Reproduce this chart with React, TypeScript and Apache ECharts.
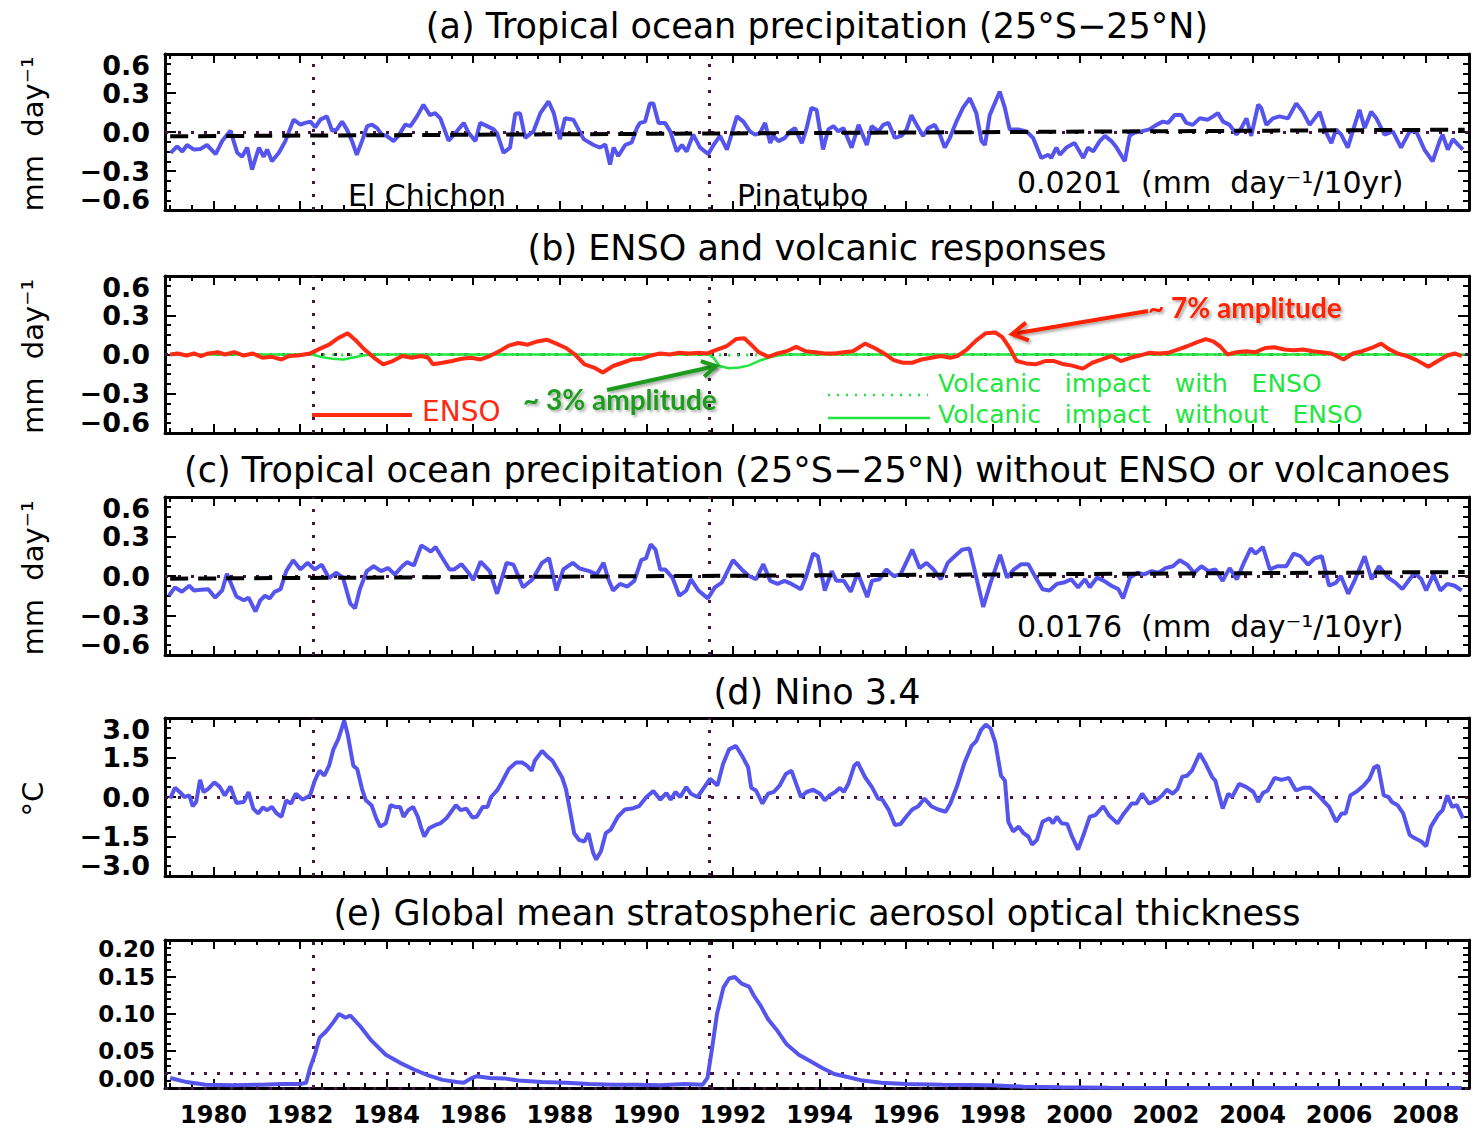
import React, { useEffect, useRef } from 'react';
import * as echarts from 'echarts';

const FONT = 'DejaVu Sans';
const BLUE = '#5555ee';
const PURPLE = '#4b1248';
const RED = '#ff2a14';
const GREEN = '#22e640';
const DARK_GREEN = '#1e9b1e';

const X_MIN = 1978.88;
const X_MAX = 2009.0;
const majorYears = [1980, 1982, 1984, 1986, 1988, 1990, 1992, 1994, 1996, 1998, 2000, 2002, 2004, 2006, 2008];
const minorYears = [1979, 1979.5, 1980.5, 1981, 1981.5, 1982.5, 1983, 1983.5, 1984.5, 1985, 1985.5, 1986.5, 1987, 1987.5, 1988.5, 1989, 1989.5, 1990.5, 1991, 1991.5, 1992.5, 1993, 1993.5, 1994.5, 1995, 1995.5, 1996.5, 1997, 1997.5, 1998.5, 1999, 1999.5, 2000.5, 2001, 2001.5, 2002.5, 2003, 2003.5, 2004.5, 2005, 2005.5, 2006.5, 2007, 2007.5, 2008.5];
const eruptions = [1982.3, 1991.45];

const precipTicks = [-0.6, -0.3, 0, 0.3, 0.6];
const ninoTicks = [-3, -1.5, 0, 1.5, 3];
const aodTicks = [0, 0.05, 0.1, 0.15, 0.2];

// (a) Tropical ocean precipitation anomaly (mm/day)
const precipRaw = [[1979.01,-0.16],[1979.16,-0.11],[1979.28,-0.15],[1979.39,-0.10],[1979.55,-0.135],[1979.70,-0.13],[1979.85,-0.10],[1980.05,-0.17],[1980.20,-0.07],[1980.39,0.01],[1980.55,-0.16],[1980.66,-0.19],[1980.78,-0.12],[1980.89,-0.29],[1981.05,-0.12],[1981.16,-0.19],[1981.24,-0.135],[1981.35,-0.225],[1981.51,-0.16],[1981.66,-0.07],[1981.85,0.095],[1982.01,0.057],[1982.12,0.07],[1982.24,0.08],[1982.35,0.036],[1982.47,0.095],[1982.62,0.12],[1982.74,0.01],[1982.85,0.02],[1982.97,0.08],[1983.08,0.02],[1983.20,-0.07],[1983.31,-0.175],[1983.43,-0.07],[1983.55,0.045],[1983.66,0.057],[1983.78,0.03],[1983.89,-0.02],[1984.00,-0.03],[1984.16,-0.07],[1984.27,-0.03],[1984.43,0.057],[1984.55,0.045],[1984.70,0.12],[1984.85,0.21],[1985.00,0.13],[1985.12,0.145],[1985.24,0.105],[1985.43,-0.066],[1985.62,0.005],[1985.78,0.07],[1985.90,-0.01],[1986.05,-0.07],[1986.16,0.07],[1986.32,0.045],[1986.47,0.02],[1986.55,-0.01],[1986.70,-0.16],[1986.85,-0.12],[1986.97,0.14],[1987.08,0.145],[1987.20,-0.045],[1987.39,0.005],[1987.55,0.145],[1987.74,0.235],[1987.86,0.145],[1988.00,-0.055],[1988.12,0.105],[1988.31,0.095],[1988.39,0.045],[1988.55,-0.055],[1988.78,-0.10],[1988.93,-0.12],[1989.05,-0.095],[1989.16,-0.25],[1989.24,-0.12],[1989.35,-0.185],[1989.51,-0.10],[1989.66,-0.08],[1989.78,0.03],[1989.85,0.07],[1989.97,0.08],[1990.08,0.22],[1990.16,0.22],[1990.28,0.07],[1990.43,0.07],[1990.55,0.005],[1990.70,-0.15],[1990.82,-0.10],[1990.93,-0.15],[1991.08,-0.02],[1991.24,-0.12],[1991.43,-0.17],[1991.55,-0.10],[1991.70,-0.03],[1991.86,-0.135],[1992.09,0.12],[1992.24,0.08],[1992.39,0.005],[1992.51,-0.02],[1992.62,-0.01],[1992.74,0.07],[1992.86,-0.085],[1992.93,-0.03],[1993.05,-0.07],[1993.20,-0.045],[1993.32,0.005],[1993.43,0.03],[1993.59,-0.085],[1993.70,0.03],[1993.81,0.185],[1993.93,0.17],[1994.08,-0.135],[1994.20,0.02],[1994.32,0.045],[1994.43,0.005],[1994.55,0.03],[1994.74,-0.12],[1994.90,0.055],[1995.09,-0.10],[1995.20,0.045],[1995.36,0.005],[1995.47,0.055],[1995.59,0.07],[1995.74,-0.045],[1995.89,-0.03],[1996.01,0.02],[1996.12,0.13],[1996.24,0.055],[1996.39,-0.03],[1996.51,0.03],[1996.66,0.055],[1996.78,-0.02],[1996.89,-0.12],[1997.01,-0.045],[1997.16,0.08],[1997.31,0.185],[1997.47,0.26],[1997.62,0.145],[1997.74,-0.07],[1997.82,-0.10],[1997.93,0.13],[1998.16,0.31],[1998.28,0.185],[1998.39,0.02],[1998.59,0.02],[1998.78,0.005],[1998.93,-0.045],[1999.12,-0.20],[1999.28,-0.175],[1999.35,-0.20],[1999.47,-0.12],[1999.55,-0.175],[1999.70,-0.12],[1999.89,-0.085],[2000.09,-0.20],[2000.20,-0.12],[2000.32,-0.15],[2000.47,-0.07],[2000.59,-0.03],[2000.74,-0.07],[2000.86,-0.12],[2001.05,-0.225],[2001.16,-0.03],[2001.28,-0.005],[2001.43,0.005],[2001.62,0.02],[2001.78,0.055],[2001.93,0.08],[2002.05,0.07],[2002.20,0.13],[2002.36,0.13],[2002.47,0.07],[2002.62,0.055],[2002.78,0.105],[2002.97,0.095],[2003.09,0.12],[2003.20,0.145],[2003.32,0.08],[2003.47,0.055],[2003.63,-0.02],[2003.74,0.03],[2003.86,0.105],[2003.97,-0.03],[2004.13,0.21],[2004.20,0.185],[2004.32,0.055],[2004.47,0.105],[2004.62,0.12],[2004.82,0.105],[2005.01,0.22],[2005.16,0.155],[2005.32,0.055],[2005.55,0.155],[2005.70,-0.005],[2005.82,-0.085],[2005.93,0.02],[2006.05,-0.02],[2006.20,-0.12],[2006.36,0.055],[2006.47,0.17],[2006.59,0.03],[2006.74,0.155],[2006.86,0.105],[2007.05,-0.02],[2007.24,0.005],[2007.43,-0.12],[2007.63,0.005],[2007.78,0.005],[2007.97,-0.135],[2008.16,-0.225],[2008.32,-0.07],[2008.39,-0.02],[2008.51,-0.135],[2008.63,-0.055],[2008.74,-0.095],[2008.86,-0.135]];
const trendA = [[1979.0,-0.033],[2008.9,0.018]];

// (b) ENSO and volcanic responses
const ensoResp = [[1979.0,0],[1979.17,0.008],[1979.38,-0.008],[1979.55,0.008],[1979.71,-0.012],[1979.88,0.008],[1980.10,0.018],[1980.26,0],[1980.48,0.018],[1980.70,-0.008],[1980.91,0.008],[1981.13,-0.025],[1981.35,-0.018],[1981.57,-0.038],[1981.74,-0.012],[1981.95,-0.008],[1982.23,0.008],[1982.45,0.043],[1982.67,0.075],[1982.88,0.125],[1983.10,0.163],[1983.27,0.113],[1983.49,0.038],[1983.71,-0.025],[1983.92,-0.075],[1984.14,-0.05],[1984.36,-0.012],[1984.58,-0.025],[1984.80,-0.012],[1984.96,-0.025],[1985.07,-0.075],[1985.29,-0.063],[1985.51,-0.05],[1985.73,-0.033],[1985.95,-0.025],[1986.17,-0.038],[1986.38,-0.012],[1986.60,0.025],[1986.82,0.068],[1987.04,0.088],[1987.26,0.075],[1987.48,0.10],[1987.70,0.113],[1987.92,0.083],[1988.14,0.05],[1988.35,0],[1988.57,-0.075],[1988.79,-0.10],[1988.99,-0.138],[1989.23,-0.088],[1989.45,-0.063],[1989.67,-0.038],[1989.88,-0.033],[1990.10,-0.008],[1990.32,0.008],[1990.54,0],[1990.76,0.013],[1990.98,0.008],[1991.20,0.013],[1991.41,0.008],[1991.63,0.038],[1991.85,0.063],[1992.07,0.118],[1992.26,0.125],[1992.42,0.075],[1992.59,0.018],[1992.81,-0.018],[1993.03,0.008],[1993.24,0.025],[1993.46,0.058],[1993.68,0.025],[1993.90,0.018],[1994.12,0.008],[1994.34,0.008],[1994.56,0.018],[1994.77,0.025],[1995.05,0.083],[1995.27,0.05],[1995.49,0.008],[1995.71,-0.043],[1995.92,-0.063],[1996.14,-0.063],[1996.36,-0.038],[1996.58,-0.025],[1996.80,-0.012],[1997.02,-0.025],[1997.18,-0.012],[1997.40,0.038],[1997.62,0.108],[1997.84,0.163],[1998.06,0.168],[1998.22,0.133],[1998.39,0.05],[1998.55,-0.05],[1998.77,-0.068],[1998.99,-0.075],[1999.21,-0.05],[1999.42,-0.05],[1999.64,-0.075],[1999.81,-0.083],[2000.08,-0.108],[2000.30,-0.063],[2000.52,-0.038],[2000.74,-0.012],[2000.96,-0.05],[2001.18,-0.025],[2001.39,-0.008],[2001.61,0.013],[2001.83,0.008],[2002.05,0.013],[2002.27,0.038],[2002.49,0.063],[2002.71,0.093],[2002.92,0.118],[2003.09,0.10],[2003.25,0.063],[2003.42,0],[2003.63,0.018],[2003.85,0.025],[2004.07,0.018],[2004.29,0.05],[2004.51,0.055],[2004.73,0.038],[2004.95,0.033],[2005.17,0.038],[2005.39,0.025],[2005.60,0.018],[2005.82,0.008],[2006.10,-0.038],[2006.32,0.008],[2006.53,0.025],[2006.75,0.05],[2006.97,0.083],[2007.14,0.043],[2007.35,0.008],[2007.57,-0.012],[2007.79,-0.043],[2008.06,-0.093],[2008.28,-0.05],[2008.50,-0.008],[2008.67,0.008],[2008.83,-0.012]];
const volcNoEnso = [[1979.0,0],[1982.28,0],[1982.5,-0.02],[1982.75,-0.033],[1983.0,-0.038],[1983.2,-0.025],[1983.45,-0.008],[1983.7,0],[1991.43,0],[1991.55,-0.025],[1991.69,-0.088],[1991.9,-0.105],[1992.15,-0.1],[1992.37,-0.083],[1992.59,-0.05],[1992.81,-0.025],[1993.03,-0.008],[1993.3,0],[2008.9,0]];
const volcWithEnso = [[1979.0,0],[1982.3,0],[1983.0,-0.004],[1984.0,0],[1991.45,0],[1992.0,-0.006],[1993.0,0],[2008.9,0]];

// (c) precipitation without ENSO or volcanoes
const precipResid = [[1978.97,-0.15],[1979.11,-0.086],[1979.27,-0.12],[1979.44,-0.074],[1979.55,-0.11],[1979.71,-0.105],[1979.88,-0.10],[1980.04,-0.165],[1980.20,-0.11],[1980.31,0.017],[1980.53,-0.155],[1980.70,-0.185],[1980.81,-0.165],[1980.97,-0.27],[1981.08,-0.185],[1981.19,-0.15],[1981.30,-0.17],[1981.41,-0.12],[1981.55,-0.10],[1981.68,0.037],[1981.84,0.12],[1982.01,0.05],[1982.17,0.10],[1982.34,0.05],[1982.50,0.086],[1982.67,-0.017],[1982.83,0.025],[1982.99,-0.012],[1983.16,-0.21],[1983.27,-0.245],[1983.38,-0.10],[1983.54,0.037],[1983.70,0.074],[1983.87,0.037],[1984.03,0.06],[1984.19,0.012],[1984.36,0.074],[1984.47,0.105],[1984.63,0.08],[1984.80,0.233],[1984.91,0.21],[1985.02,0.185],[1985.13,0.22],[1985.29,0.135],[1985.45,0.05],[1985.56,0.05],[1985.73,0.09],[1985.89,0.025],[1986.00,-0.03],[1986.17,0.11],[1986.38,0.037],[1986.55,-0.135],[1986.77,0.10],[1986.93,0.086],[1987.15,-0.086],[1987.37,-0.025],[1987.59,0.10],[1987.75,0.135],[1987.92,-0.11],[1988.08,0.05],[1988.30,0.10],[1988.46,0.057],[1988.68,0.037],[1988.85,0.012],[1989.01,0.10],[1989.12,-0.025],[1989.23,-0.11],[1989.39,-0.06],[1989.56,-0.08],[1989.72,-0.037],[1989.88,0.12],[1989.99,0.135],[1990.10,0.24],[1990.21,0.20],[1990.32,0.05],[1990.43,0.05],[1990.60,-0.012],[1990.76,-0.15],[1990.92,-0.11],[1991.03,-0.025],[1991.20,-0.11],[1991.42,-0.17],[1991.58,-0.086],[1991.74,-0.05],[1992.00,0.12],[1992.20,0.05],[1992.37,0.0],[1992.53,-0.025],[1992.70,0.09],[1992.86,-0.037],[1993.03,-0.06],[1993.19,-0.037],[1993.35,-0.06],[1993.57,-0.10],[1993.68,-0.012],[1993.85,0.17],[1993.96,0.15],[1994.12,-0.11],[1994.28,0.037],[1994.39,-0.037],[1994.56,-0.037],[1994.72,-0.12],[1994.88,0.025],[1995.10,-0.16],[1995.21,-0.037],[1995.38,-0.025],[1995.54,0.05],[1995.71,0.0],[1995.87,0.012],[1996.14,0.20],[1996.31,0.06],[1996.47,0.10],[1996.63,0.05],[1996.80,-0.025],[1996.96,0.10],[1997.07,0.135],[1997.29,0.20],[1997.46,0.21],[1997.62,-0.012],[1997.78,-0.235],[1997.95,-0.05],[1998.17,0.16],[1998.33,-0.012],[1998.49,0.05],[1998.66,0.09],[1998.82,0.09],[1998.99,-0.012],[1999.15,-0.10],[1999.31,-0.11],[1999.48,-0.06],[1999.64,-0.05],[1999.81,-0.025],[1999.97,-0.086],[2000.13,-0.025],[2000.24,-0.086],[2000.41,-0.012],[2000.57,-0.037],[2000.74,-0.074],[2000.90,-0.10],[2001.01,-0.17],[2001.17,-0.012],[2001.34,0.025],[2001.50,0.012],[2001.67,0.037],[2001.83,0.025],[2001.99,0.06],[2002.16,0.074],[2002.32,0.12],[2002.49,0.086],[2002.65,0.025],[2002.82,0.074],[2002.98,0.037],[2003.14,0.05],[2003.31,-0.037],[2003.47,0.06],[2003.64,-0.025],[2003.80,0.10],[2003.96,0.21],[2004.07,0.17],[2004.24,0.22],[2004.40,0.05],[2004.57,0.074],[2004.78,0.074],[2004.95,0.17],[2005.11,0.15],[2005.28,0.086],[2005.44,0.135],[2005.60,0.15],[2005.77,-0.074],[2005.93,-0.05],[2006.04,0.0],[2006.21,-0.135],[2006.37,-0.025],[2006.59,0.15],[2006.75,-0.025],[2006.92,0.074],[2007.13,-0.012],[2007.30,-0.05],[2007.46,-0.10],[2007.74,0.025],[2007.90,-0.025],[2008.01,-0.11],[2008.18,0.012],[2008.34,-0.11],[2008.50,-0.06],[2008.67,-0.074],[2008.83,-0.11]];
const trendC = [[1979.0,-0.02],[2008.9,0.03]];

// (d) Nino 3.4 (degC)
const nino34 = [[1979.0,-0.06],[1979.11,0.35],[1979.22,0.19],[1979.33,0],[1979.44,0.06],[1979.52,-0.35],[1979.60,-0.19],[1979.69,0.65],[1979.77,0.19],[1979.88,0.31],[1980.02,0.56],[1980.15,0.375],[1980.26,0.06],[1980.39,0.4],[1980.53,-0.225],[1980.70,-0.19],[1980.81,0.19],[1980.92,-0.44],[1981.03,-0.625],[1981.14,-0.4],[1981.24,-0.5],[1981.35,-0.375],[1981.46,-0.625],[1981.57,-0.75],[1981.68,-0.125],[1981.79,-0.25],[1981.90,0.125],[1982.06,-0.1],[1982.23,0.06],[1982.34,0.625],[1982.45,1.0],[1982.56,0.81],[1982.67,1.19],[1982.77,1.81],[1982.88,2.19],[1983.02,2.9],[1983.10,2.375],[1983.23,1.19],[1983.32,1.06],[1983.43,0.31],[1983.52,-0.125],[1983.65,-0.31],[1983.76,-0.81],[1983.85,-1.125],[1983.98,-1.0],[1984.09,-0.31],[1984.20,-0.375],[1984.31,-0.375],[1984.39,-0.75],[1984.50,-0.5],[1984.61,-0.375],[1984.72,-0.75],[1984.80,-1.19],[1984.87,-1.5],[1984.98,-1.19],[1985.13,-1.06],[1985.24,-1.0],[1985.38,-0.81],[1985.49,-0.56],[1985.60,-0.31],[1985.71,-0.5],[1985.84,-0.44],[1985.98,-0.775],[1986.08,-0.75],[1986.22,-0.375],[1986.33,-0.375],[1986.41,0],[1986.55,0.25],[1986.66,0.56],[1986.82,1.06],[1986.99,1.31],[1987.13,1.31],[1987.24,1.19],[1987.35,1.0],[1987.42,1.375],[1987.59,1.75],[1987.70,1.56],[1987.83,1.375],[1987.94,1.06],[1988.05,0.75],[1988.14,0.31],[1988.24,-0.56],[1988.33,-1.375],[1988.44,-1.625],[1988.57,-1.69],[1988.66,-1.375],[1988.77,-2.125],[1988.84,-2.375],[1988.95,-2.06],[1989.06,-1.375],[1989.17,-1.25],[1989.34,-0.75],[1989.50,-0.475],[1989.67,-0.44],[1989.83,-0.35],[1990.00,0],[1990.16,0.225],[1990.32,-0.1],[1990.46,0.15],[1990.56,-0.1],[1990.67,0.19],[1990.78,0],[1990.92,0.375],[1991.03,0.125],[1991.18,0],[1991.31,0.31],[1991.47,0.69],[1991.64,0.44],[1991.77,1.25],[1991.91,1.81],[1992.07,1.94],[1992.21,1.56],[1992.35,1.125],[1992.42,0.35],[1992.53,0.25],[1992.68,-0.25],[1992.81,0.125],[1992.94,0.19],[1993.08,0.44],[1993.22,0.875],[1993.35,1.0],[1993.46,0.5],[1993.57,0],[1993.70,0.19],[1993.85,0.275],[1994.01,0.125],[1994.12,-0.125],[1994.23,0.06],[1994.36,0.19],[1994.47,0.35],[1994.56,0.19],[1994.67,0.525],[1994.80,1.19],[1994.88,1.31],[1995.05,0.75],[1995.21,0.375],[1995.35,-0.06],[1995.45,-0.1],[1995.60,-0.5],[1995.74,-1.06],[1995.87,-1.025],[1996.00,-0.75],[1996.14,-0.475],[1996.28,-0.35],[1996.42,-0.06],[1996.58,-0.35],[1996.74,-0.475],[1996.91,-0.56],[1997.02,-0.25],[1997.18,0.44],[1997.35,1.31],[1997.51,1.94],[1997.62,2.125],[1997.73,2.55],[1997.84,2.75],[1997.95,2.6],[1998.06,2.06],[1998.19,0.81],[1998.28,0.625],[1998.36,-0.94],[1998.47,-1.31],[1998.60,-1.125],[1998.71,-1.375],[1998.82,-1.5],[1998.91,-1.81],[1999.02,-1.625],[1999.15,-0.94],[1999.31,-0.81],[1999.39,-1.0],[1999.48,-0.75],[1999.59,-1.0],[1999.72,-1.025],[1999.83,-1.5],[1999.97,-2.0],[2000.11,-1.375],[2000.24,-0.75],[2000.37,-0.69],[2000.55,-0.35],[2000.68,-0.69],[2000.88,-1.0],[2001.03,-0.625],[2001.21,-0.25],[2001.32,-0.25],[2001.45,0.125],[2001.61,-0.25],[2001.78,-0.125],[2001.91,0.06],[2002.02,0.275],[2002.16,0.125],[2002.27,0.31],[2002.38,0.775],[2002.49,0.81],[2002.60,1.0],[2002.78,1.65],[2002.92,1.25],[2003.07,0.75],[2003.14,0.625],[2003.31,-0.44],[2003.44,0.125],[2003.53,0],[2003.69,0.5],[2003.86,0.375],[2004.02,0.19],[2004.13,-0.19],[2004.24,0.15],[2004.35,0.25],[2004.51,0.725],[2004.67,0.65],[2004.84,0.725],[2005.00,0.25],[2005.17,0.35],[2005.33,0.35],[2005.50,0.1],[2005.66,-0.19],[2005.77,-0.375],[2005.93,-0.94],[2006.06,-0.625],[2006.15,-0.625],[2006.26,0.06],[2006.42,0.225],[2006.57,0.44],[2006.70,0.69],[2006.81,1.125],[2006.90,1.19],[2007.03,0.06],[2007.14,0],[2007.22,-0.19],[2007.35,-0.31],[2007.48,-0.625],[2007.63,-1.44],[2007.74,-1.56],[2007.90,-1.69],[2008.01,-1.875],[2008.12,-1.125],[2008.28,-0.69],[2008.39,-0.5],[2008.50,0.06],[2008.61,-0.375],[2008.72,-0.31],[2008.86,-0.81]];

// (e) Global mean stratospheric aerosol optical thickness
const aod = [[1979.0,0.0136],[1979.38,0.008],[1979.82,0.0045],[1980.48,0.0036],[1981.13,0.0045],[1981.57,0.0055],[1982.01,0.0055],[1982.14,0.007],[1982.23,0.027],[1982.34,0.045],[1982.45,0.068],[1982.61,0.077],[1982.77,0.089],[1982.90,0.10],[1983.05,0.095],[1983.16,0.098],[1983.38,0.084],[1983.65,0.064],[1983.98,0.045],[1984.31,0.034],[1984.63,0.025],[1984.96,0.017],[1985.29,0.011],[1985.62,0.008],[1985.78,0.007],[1985.95,0.013],[1986.08,0.016],[1986.38,0.0136],[1986.71,0.013],[1987.04,0.010],[1987.59,0.008],[1988.14,0.007],[1988.68,0.0055],[1989.23,0.0045],[1989.77,0.0045],[1990.32,0.0036],[1990.87,0.0055],[1991.30,0.0045],[1991.41,0.0136],[1991.52,0.055],[1991.63,0.10],[1991.78,0.136],[1991.91,0.148],[1992.04,0.15],[1992.20,0.141],[1992.37,0.137],[1992.48,0.125],[1992.64,0.111],[1992.81,0.093],[1993.03,0.077],[1993.24,0.059],[1993.52,0.045],[1993.79,0.036],[1994.06,0.027],[1994.34,0.019],[1994.67,0.0145],[1994.99,0.010],[1995.43,0.007],[1995.98,0.0055],[1996.85,0.0045],[1997.95,0.0036],[1998.71,0.0018],[1999.59,0.001],[2000.68,0.0005],[2002.87,0],[2008.83,0]];

const panelTitles = [
  '(a) Tropical ocean precipitation (25°S−25°N)',
  '(b) ENSO and volcanic responses',
  '(c) Tropical ocean precipitation (25°S−25°N) without ENSO or volcanoes',
  '(d) Nino 3.4',
  '(e) Global mean stratospheric aerosol optical thickness',
];
const yNames = ['mm  day⁻¹', 'mm  day⁻¹', 'mm  day⁻¹', '°C', ''];

const LEFT = 165;
const WIDTH = 1304;
const panels = [
  { top: 54, height: 156, ticks: precipTicks, minor: 4, digits: 1, labelSize: 27, labelMargin: 15, refLines: [0] },
  { top: 276, height: 157, ticks: precipTicks, minor: 4, digits: 1, labelSize: 27, labelMargin: 15, refLines: [0] },
  { top: 497, height: 158, ticks: precipTicks, minor: 4, digits: 1, labelSize: 27, labelMargin: 15, refLines: [0] },
  { top: 718, height: 158, ticks: ninoTicks, minor: 4, digits: 1, labelSize: 27, labelMargin: 15, refLines: [0] },
  { top: 940, height: 148, ticks: aodTicks, minor: 5, digits: 2, labelSize: 23, labelMargin: 10, refLines: [0.02, 0] },
];

function fmt(v: number, d: number) {
  const s = Math.abs(v).toFixed(d);
  return v < -1e-9 ? '−' + s : s;
}

function buildOption() {
  const grid = panels.map(p => ({ left: LEFT, top: p.top, width: WIDTH, height: p.height, containLabel: false, outerBoundsMode: 'none' }));
  const xAxis: any[] = [];
  const yAxis: any[] = [];
  panels.forEach((p, i) => {
    const isLast = i === panels.length - 1;
    const mk = (position: string, values: number[], len: number, showLine: boolean, showLabel: boolean) => ({
      type: 'value', gridIndex: i, min: X_MIN, max: X_MAX, position,
      splitLine: { show: false },
      axisLine: { show: showLine, onZero: false, lineStyle: { color: '#000', width: 3 } },
      axisTick: { show: true, inside: true, length: len, customValues: values, lineStyle: { color: '#000', width: 2 } },
      axisLabel: showLabel ? {
        show: true, customValues: majorYears, margin: 15, fontSize: 24, fontWeight: 'bold', fontFamily: FONT, color: '#000',
        formatter: (v: number) => String(Math.round(v)),
      } : { show: false },
    });
    xAxis.push(mk('bottom', majorYears, 9, true, isLast));
    xAxis.push(mk('bottom', minorYears, 5, false, false));
    xAxis.push(mk('top', majorYears, 9, true, false));
    xAxis.push(mk('top', minorYears, 5, false, false));

    const common = {
      type: 'value', gridIndex: i, min: p.ticks[0], max: p.ticks[p.ticks.length - 1], interval: p.ticks[1] - p.ticks[0],
      splitLine: { show: false },
      axisLine: { show: true, onZero: false, lineStyle: { color: '#000', width: 3 } },
      axisTick: { show: true, inside: true, length: 11, lineStyle: { color: '#000', width: 2 } },
      minorTick: { show: true, splitNumber: p.minor, length: 6, lineStyle: { color: '#000', width: 2 } },
    };
    yAxis.push({
      ...common, position: 'left',
      axisLabel: {
        show: true, customValues: p.ticks, hideOverlap: false, margin: p.labelMargin,
        fontSize: p.labelSize, lineHeight: Math.round(p.labelSize * 0.8), fontWeight: 'bold', fontFamily: FONT, color: '#000',
        showMinLabel: true, showMaxLabel: true, verticalAlignMinLabel: 'bottom', verticalAlignMaxLabel: 'top',
        formatter: (v: number) => fmt(v, p.digits),
      },
    });
    yAxis.push({ ...common, position: 'right', axisLabel: { show: false } });
  });

  const markLineFor = (i: number) => ({
    silent: true, symbol: ['none', 'none'], z: 1, label: { show: false }, animation: false,
    lineStyle: { type: [3, 10], color: PURPLE, width: 3 },
    data: [...eruptions.map(x => ({ xAxis: x })), ...panels[i].refLines.map(y => ({ yAxis: y }))],
  });
  const line = (i: number, data: number[][], color: string, width: number, extra: any = {}) => ({
    type: 'line', xAxisIndex: i * 4, yAxisIndex: i * 2, data, showSymbol: false, symbol: 'none', silent: true,
    animation: false, lineStyle: { color, width, ...(extra.lineStyle || {}) }, z: extra.z || 2,
    ...(extra.markLine ? { markLine: extra.markLine } : {}),
  });

  const series = [
    line(0, precipRaw, BLUE, 4, { markLine: markLineFor(0) }),
    line(0, trendA, '#000', 4, { lineStyle: { type: [18, 10] }, z: 3 }),
    line(1, volcWithEnso, GREEN, 3, { lineStyle: { type: [2, 7] }, markLine: markLineFor(1) }),
    line(1, volcNoEnso, GREEN, 2.5),
    line(1, ensoResp, RED, 4, { z: 3 }),
    line(2, precipResid, BLUE, 4, { markLine: markLineFor(2) }),
    line(2, trendC, '#000', 4, { lineStyle: { type: [18, 10] }, z: 3 }),
    line(3, nino34, BLUE, 4, { markLine: markLineFor(3) }),
    line(4, aod, BLUE, 4, { markLine: markLineFor(4) }),
  ];

  const txt = (x: number, y: number, text: string, st: any = {}) => ({
    type: 'text', x, y, z: 100, silent: true,
    style: { text, fontFamily: FONT, fontSize: 30, fill: '#000', align: 'left', verticalAlign: 'middle', ...st },
  });
  const shadow = { shadowColor: 'rgba(0,0,0,0.35)', shadowBlur: 3, shadowOffsetX: 2, shadowOffsetY: 2 };
  const textShadow = { textShadowColor: 'rgba(0,0,0,0.35)', textShadowBlur: 3, textShadowOffsetX: 2, textShadowOffsetY: 2 };

  const graphic: any[] = [];
  const titleY = [26, 248, 470, 692, 913];
  panelTitles.forEach((t, i) => graphic.push(txt(LEFT + WIDTH / 2, titleY[i], t, { fontSize: 35, align: 'center' })));
  yNames.forEach((n, i) => {
    if (!n) return;
    const p = panels[i];
    graphic.push({
      type: 'text', x: 33, y: p.top + p.height / 2 + 2, rotation: Math.PI / 2, z: 100, silent: true,
      style: { text: n, fontFamily: FONT, fontSize: 29, fill: '#000', align: 'center', verticalAlign: 'middle' },
    });
  });
  graphic.push(txt(348, 195, 'El Chichon', { lineHeight: 24 }));
  graphic.push(txt(737, 195, 'Pinatubo', { lineHeight: 24 }));
  graphic.push(txt(1017, 182, '0.0201  (mm  day⁻¹/10yr)', { fontSize: 30 }));
  graphic.push(txt(1017, 626, '0.0176  (mm  day⁻¹/10yr)', { fontSize: 30 }));

  // panel (b) legend and annotations
  graphic.push({ type: 'line', z: 100, silent: true, shape: { x1: 312, y1: 415, x2: 412, y2: 415 }, style: { stroke: RED, lineWidth: 4 } });
  graphic.push(txt(422, 411, 'ENSO', { fill: RED, fontSize: 28, lineHeight: 22 }));
  graphic.push({ type: 'line', z: 100, silent: true, shape: { x1: 828, y1: 395, x2: 928, y2: 395 }, style: { stroke: GREEN, lineWidth: 2.5, lineDash: [2, 7] } });
  graphic.push(txt(938, 383, 'Volcanic   impact   with   ENSO', { fill: GREEN, fontSize: 25, lineHeight: 20 }));
  graphic.push({ type: 'line', z: 100, silent: true, shape: { x1: 828, y1: 418, x2: 930, y2: 418 }, style: { stroke: GREEN, lineWidth: 2.5 } });
  graphic.push(txt(938, 414, 'Volcanic   impact   without   ENSO', { fill: GREEN, fontSize: 25, lineHeight: 20 }));

  graphic.push(txt(523, 399, '~ 3% amplitude', { fill: DARK_GREEN, fontSize: 28, lineHeight: 22, fontWeight: 'bold', fontFamily: 'Lato', ...textShadow }));
  graphic.push({ type: 'polyline', z: 100, silent: true, shape: { points: [[607, 390], [716, 366]] }, style: { stroke: DARK_GREEN, lineWidth: 4, fill: null, ...shadow } });
  graphic.push({ type: 'polyline', z: 100, silent: true, shape: { points: [[700.8, 361.1], [716, 366], [704.2, 376.8]] }, style: { stroke: DARK_GREEN, lineWidth: 4, fill: null, ...shadow } });

  graphic.push(txt(1148, 307, '~ 7% amplitude', { fill: '#ff2200', fontSize: 28, fontWeight: 'bold', fontFamily: 'Lato', ...textShadow }));
  graphic.push({ type: 'polyline', z: 100, silent: true, shape: { points: [[1148, 311], [1012, 334]] }, style: { stroke: '#ff2200', lineWidth: 4, fill: null, ...shadow } });
  graphic.push({ type: 'polyline', z: 100, silent: true, shape: { points: [[1028.8, 340.4], [1012, 334], [1025.9, 322.6]] }, style: { stroke: '#ff2200', lineWidth: 4, fill: null, ...shadow } });

  return {
    animation: false,
    backgroundColor: '#ffffff',
    textStyle: { fontFamily: FONT },
    grid, xAxis, yAxis, series, graphic,
  };
}

export default function App() {
  const ref = useRef<HTMLDivElement>(null);
  useEffect(() => {
    if (!ref.current) return;
    const chart = echarts.init(ref.current, null, { renderer: 'svg' });
    chart.setOption(buildOption() as any);
    return () => chart.dispose();
  }, []);
  return <div ref={ref} style={{ position: 'absolute', left: 0, top: 0, width: 1473, height: 1133, background: '#fff' }} />;
}
